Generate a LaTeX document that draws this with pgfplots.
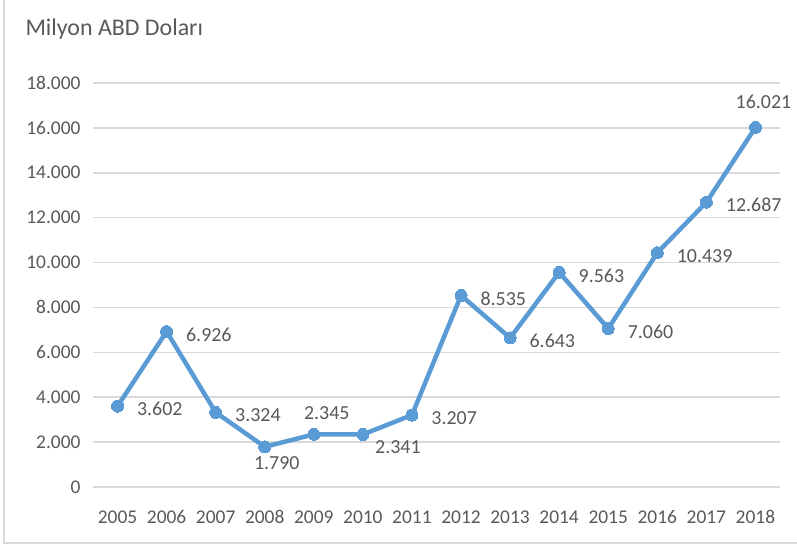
\documentclass[border=0pt]{standalone}
\usepackage{pgfplots}
\pgfplotsset{compat=1.18}
\usepackage{fontspec}
\setmainfont{Carlito}
\definecolor{lineblue}{HTML}{5B9BD5}
\definecolor{gridgray}{HTML}{D9D9D9}
\definecolor{txtgray}{HTML}{595959}
\begin{document}
\begin{tikzpicture}[x=1bp,y=1bp]
\useasboundingbox (0,0) rectangle (797,547);
\draw[gridgray, line width=2bp] (4,547) -- (4,4) -- (797,4);
\node[anchor=west, text=txtgray, font=\fontsize{24}{28}\selectfont] at (22,518) {Milyon ABD Doları};
\begin{axis}[
  at={(93bp,60bp)}, anchor=south west,
  scale only axis, width=687bp, height=404bp,
  xmin=2004.5, xmax=2018.5, ymin=0, ymax=18000,
  xtick={2005,...,2018}, ytick={0,2000,...,18000},
  scaled ticks=false,
  xticklabel style={/pgf/number format/1000 sep={}},
  yticklabel style={/pgf/number format/1000 sep={.}, /pgf/number format/fixed, /pgf/number format/precision=0},
  /pgf/number format/assume math mode=true,
  tick label style={text=txtgray, font=\fontsize{19.5}{22}\selectfont},
  xticklabel style={yshift=-20bp},
  yticklabel style={xshift=-9bp},
  axis line style={draw=none},
  major tick length=0pt,
  ymajorgrids, grid style={gridgray, line width=1.5bp},
  clip=false,
]
\addplot[lineblue, line width=4.5bp, mark=*, mark size=6bp, mark options={fill=lineblue, draw=lineblue, line width=0pt}]
 coordinates {(2005,3602) (2006,6926) (2007,3324) (2008,1790) (2009,2345) (2010,2341) (2011,3207) (2012,8535) (2013,6643) (2014,9563) (2015,7060) (2016,10439) (2017,12687) (2018,16021)};
% labels to the right
\addplot[draw=none, mark=none, nodes near coords, point meta=explicit symbolic,
  nodes near coords style={anchor=west, xshift=16bp, yshift=-3bp, text=txtgray, font=\fontsize{20}{22}\selectfont}]
 coordinates {(2005,3602)[3.602] (2006,6926)[6.926] (2007,3324)[3.324] (2011,3207)[3.207] (2012,8535)[8.535] (2013,6643)[6.643] (2014,9563)[9.563] (2015,7060)[7.060] (2016,10439)[10.439] (2017,12687)[12.687]};
% labels below
\addplot[draw=none, mark=none, nodes near coords, point meta=explicit symbolic,
  nodes near coords style={anchor=north, yshift=-6bp, xshift=12bp, text=txtgray, font=\fontsize{20}{22}\selectfont}]
 coordinates {(2008,1790)[1.790]};
\addplot[draw=none, mark=none, nodes near coords, point meta=explicit symbolic,
  nodes near coords style={anchor=north, yshift=-3bp, xshift=35bp, text=txtgray, font=\fontsize{20}{22}\selectfont}]
 coordinates {(2010,2341)[2.341]};
% labels above
\addplot[draw=none, mark=none, nodes near coords, point meta=explicit symbolic,
  nodes near coords style={anchor=south, yshift=11bp, xshift=13bp, text=txtgray, font=\fontsize{20}{22}\selectfont}]
 coordinates {(2009,2345)[2.345]};
\addplot[draw=none, mark=none, nodes near coords, point meta=explicit symbolic,
  nodes near coords style={anchor=south, yshift=15bp, xshift=8bp, text=txtgray, font=\fontsize{20}{22}\selectfont}]
 coordinates {(2018,16021)[16.021]};
\end{axis}
\end{tikzpicture}
\end{document}
